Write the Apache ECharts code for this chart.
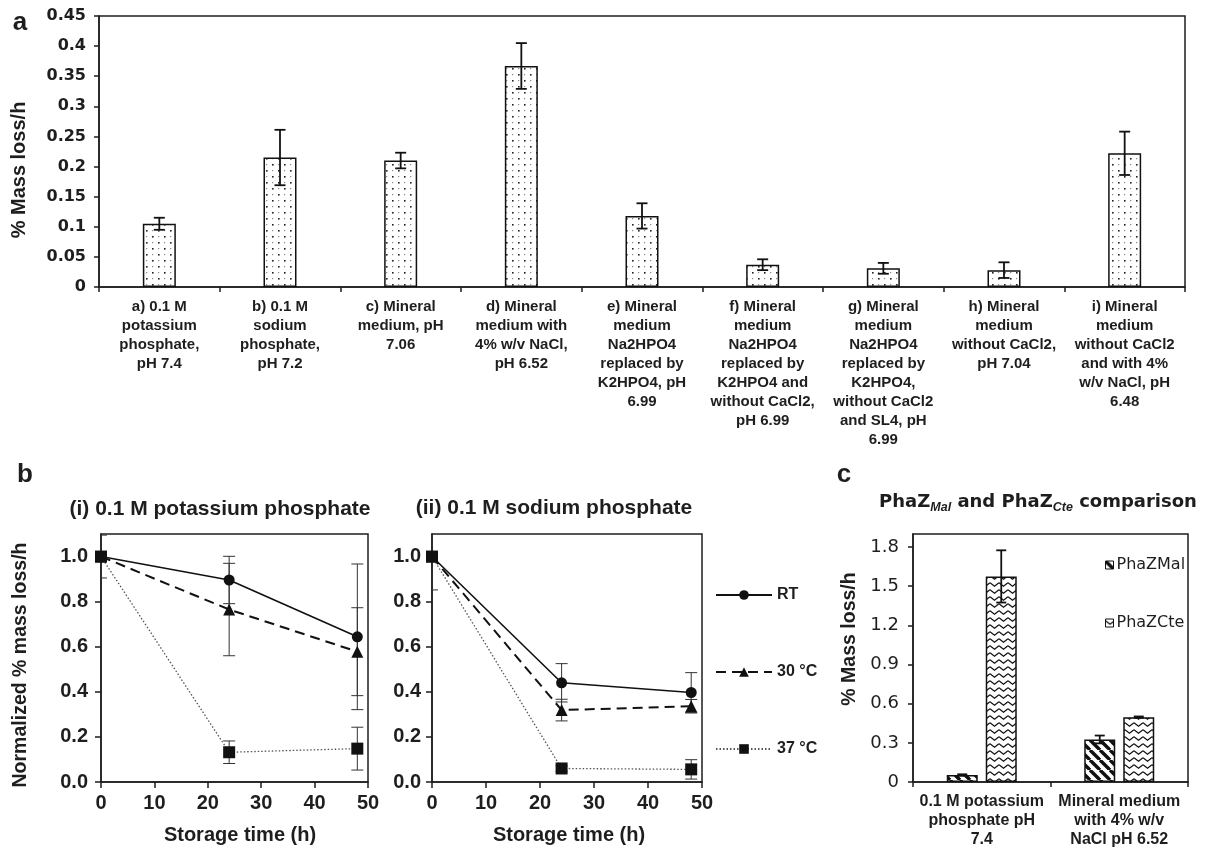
<!DOCTYPE html>
<html>
<head>
<meta charset="utf-8">
<script src="https://cdn.jsdelivr.net/npm/echarts@6/dist/echarts.min.js"></script>
<style>
  html, body { margin: 0; padding: 0; background: #fff; }
  #chart { width: 1216px; height: 849px; }
</style>
</head>
<body>
<div id="chart"></div>
<script>
// ---------- data ----------
// (a) degradation rate in different buffers / media
const mediaLabels = [
  'a) 0.1 M\npotassium\nphosphate,\npH 7.4',
  'b) 0.1 M\nsodium\nphosphate,\npH 7.2',
  'c) Mineral\nmedium, pH\n7.06',
  'd) Mineral\nmedium with\n4% w/v NaCl,\npH 6.52',
  'e) Mineral\nmedium\nNa2HPO4\nreplaced by\nK2HPO4, pH\n6.99',
  'f) Mineral\nmedium\nNa2HPO4\nreplaced by\nK2HPO4 and\nwithout CaCl2,\npH 6.99',
  'g) Mineral\nmedium\nNa2HPO4\nreplaced by\nK2HPO4,\nwithout CaCl2\nand SL4, pH\n6.99',
  'h) Mineral\nmedium\nwithout CaCl2,\npH 7.04',
  'i) Mineral\nmedium\nwithout CaCl2\nand with 4%\nw/v NaCl, pH\n6.48'
];
const massLoss    = [0.105, 0.215, 0.21, 0.367, 0.118, 0.037, 0.031, 0.028, 0.222];
const massLossErr = [0.010, 0.046, 0.013, 0.038, 0.021, 0.009, 0.009, 0.013, 0.036];

// (b) normalized rate after storage
const storageHours = [0, 24, 48];
const kRT  = [1.0, 0.896, 0.644], kRTErr  = [0.095, 0.105, 0.323];
const k30  = [1.0, 0.765, 0.578], k30Err  = [0, 0.205, 0.195];
const k37  = [1.0, 0.132, 0.148], k37Err  = [0, 0.05, 0.095];
const nRT  = [1.0, 0.44, 0.397],  nRTErr  = [0.148, 0.085, 0.088];
const n30  = [1.0, 0.319, 0.336], n30Err  = [0, 0.048, 0.03];
const n37  = [1.0, 0.06, 0.056],  n37Err  = [0, 0.012, 0.043];
const normTicks = [0, 0.2, 0.4, 0.6, 0.8, 1.0];
const tempNames = ['RT', '30 °C', '37 °C'];

// (c) enzyme comparison
const enzymeMedia = ['0.1 M potassium\nphosphate pH\n7.4', 'Mineral medium\nwith 4% w/v\nNaCl pH 6.52'];
const phaZMal = [0.054, 0.326], phaZMalErr = [0.005, 0.03];
const phaZCte = [1.575, 0.497], phaZCteErr = [0.2, 0.005];
const rateTicks = [0, 0.3, 0.6, 0.9, 1.2, 1.5, 1.8];

// ---------- styling helpers ----------
const ARIAL = '"Liberation Sans", Arial, Helvetica, sans-serif';
const DEJAVU = '"DejaVu Sans", Verdana, sans-serif';
const INK = '#1e1e1e';
const C_BAR_W = 31, C_BAR_GAP = 8;

function tile(w, h, draw) {
  const c = document.createElement('canvas');
  c.width = w; c.height = h;
  const g = c.getContext('2d');
  g.fillStyle = '#fff'; g.fillRect(0, 0, w, h);
  draw(g);
  return { image: c, repeat: 'repeat' };
}
const dotFill = tile(12, 12, g => {
  g.fillStyle = '#222';
  g.fillRect(2, 2, 1.6, 1.6); g.fillRect(8, 8, 1.6, 1.6);
  g.fillStyle = '#8a8a8a';
  g.fillRect(8, 2, 1.2, 1.2); g.fillRect(2, 8, 1.2, 1.2);
});
const stripeFill = tile(10, 10, g => {
  g.strokeStyle = '#111'; g.lineWidth = 3.4;
  for (const k of [-10, 0, 10]) {
    g.beginPath(); g.moveTo(k, 0); g.lineTo(k + 10, 10); g.stroke();
  }
});
const zigzagFill = tile(9, 7, g => {
  g.strokeStyle = '#111'; g.lineWidth = 1.3;
  g.beginPath(); g.moveTo(0, 1.8); g.lineTo(4.5, 5.2); g.lineTo(9, 1.8); g.stroke();
});

const pairs = (xs, ys) => xs.map((x, i) => [x, ys[i]]);
const triples = (xs, ys, es) => xs.map((x, i) => [x, ys[i], es[i]]);

function errRender(cap, width, color, shift) {
  return function (params, api) {
    const e = api.value(2);
    if (!e) return null;
    const v = api.value(1);
    const hi = api.coord([api.value(0), v + e]);
    const lo = api.coord([api.value(0), v - e]);
    const x = hi[0] + (shift || 0);
    const st = { stroke: color, lineWidth: width };
    return {
      type: 'group',
      children: [
        { type: 'line', shape: { x1: x, y1: hi[1], x2: x, y2: lo[1] }, style: st },
        { type: 'line', shape: { x1: x - cap, y1: hi[1], x2: x + cap, y2: hi[1] }, style: st },
        { type: 'line', shape: { x1: x - cap, y1: lo[1], x2: x + cap, y2: lo[1] }, style: st }
      ]
    };
  };
}
function errSeries(gridIdx, data, cap, width, color, shift, z) {
  return {
    type: 'custom', xAxisIndex: gridIdx, yAxisIndex: gridIdx, data,
    encode: { x: 0, y: 1 }, clip: true, silent: true, z: z,
    renderItem: errRender(cap, width, color, shift)
  };
}

const axisLine = { lineStyle: { color: INK, width: 1.5 } };
const gridBox = { show: true, borderColor: INK, borderWidth: 1.5, backgroundColor: 'transparent' };

// ---------- line series for (b) ----------
const lineLooks = [
  { symbol: 'circle', size: 11, line: { color: '#111', width: 1.6, type: 'solid' } },
  { symbol: 'triangle', size: 12, line: { color: '#111', width: 2, type: [10, 6] } },
  { symbol: 'rect', size: 12, line: { color: '#555', width: 1.3, type: [1.5, 2] } }
];
function bLines(gridIdx, sets) {
  const out = [];
  sets.forEach((s, i) => {
    const look = lineLooks[i];
    out.push(errSeries(gridIdx, triples(storageHours, s[0], s[1]), 6, 1, '#333', 0, 2));
    out.push({
      type: 'line', name: tempNames[i], xAxisIndex: gridIdx, yAxisIndex: gridIdx,
      data: pairs(storageHours, s[0]), symbol: look.symbol, symbolSize: look.size,
      itemStyle: { color: '#111' }, lineStyle: look.line, z: 3
    });
  });
  return out;
}

function txt(text, x, y, st, rot) {
  return {
    type: 'text', x, y, rotation: rot || 0,
    style: Object.assign({
      text, fill: INK,
      align: 'center', verticalAlign: 'middle', textAlign: 'center', textVerticalAlign: 'middle'
    }, st)
  };
}

const chart = echarts.init(document.getElementById('chart'), null, { renderer: 'canvas' });

const option = {
  animation: false,
  backgroundColor: '#fff',
  textStyle: { fontFamily: ARIAL, color: INK },
  grid: [
    Object.assign({ left: 99, top: 16, width: 1086, height: 271 }, gridBox),
    Object.assign({ left: 101, top: 534, width: 267, height: 248 }, gridBox),
    Object.assign({ left: 432, top: 534, width: 270, height: 248 }, gridBox),
    Object.assign({ left: 913, top: 534, width: 275, height: 249 }, gridBox)
  ],
  xAxis: [
    {
      gridIndex: 0, type: 'category', data: mediaLabels, boundaryGap: true,
      axisLine, axisTick: { show: true, interval: 0, length: 5, lineStyle: { color: INK, width: 1.5 } },
      axisLabel: { interval: 0, margin: 10, fontFamily: ARIAL, fontWeight: 'bold', fontSize: 15, lineHeight: 19, color: INK }
    },
    {
      gridIndex: 1, type: 'value', min: 0, max: 50, interval: 10, splitLine: { show: false },
      axisLine, axisTick: { length: 6, lineStyle: { color: INK, width: 1.5 } },
      axisLabel: { margin: 11, fontFamily: ARIAL, fontWeight: 'bold', fontSize: 20, color: INK }
    },
    {
      gridIndex: 2, type: 'value', min: 0, max: 50, interval: 10, splitLine: { show: false },
      axisLine, axisTick: { length: 6, lineStyle: { color: INK, width: 1.5 } },
      axisLabel: { margin: 11, fontFamily: ARIAL, fontWeight: 'bold', fontSize: 20, color: INK }
    },
    {
      gridIndex: 3, type: 'category', data: enzymeMedia, boundaryGap: true,
      axisLine, axisTick: { show: true, interval: 0, length: 5, lineStyle: { color: INK, width: 1.5 } },
      axisLabel: { interval: 0, margin: 10, fontFamily: ARIAL, fontWeight: 'bold', fontSize: 16, lineHeight: 19, color: INK }
    }
  ],
  yAxis: [
    {
      gridIndex: 0, type: 'value', min: 0, max: 0.45, interval: 0.05, splitLine: { show: false },
      axisLine: Object.assign({ show: true }, axisLine),
      axisTick: { show: true, length: 5, lineStyle: { color: INK, width: 1.5 } },
      axisLabel: { margin: 13, fontFamily: DEJAVU, fontWeight: 'bold', fontSize: 16, color: INK }
    },
    {
      gridIndex: 1, type: 'value', min: 0, max: 1.1, splitLine: { show: false },
      axisLine: Object.assign({ show: true }, axisLine),
      axisTick: { show: true, length: 6, customValues: normTicks, lineStyle: { color: INK, width: 1.5 } },
      axisLabel: { margin: 13, customValues: normTicks, formatter: v => v.toFixed(1), fontFamily: ARIAL, fontWeight: 'bold', fontSize: 20, color: INK }
    },
    {
      gridIndex: 2, type: 'value', min: 0, max: 1.1, splitLine: { show: false },
      axisLine: Object.assign({ show: true }, axisLine),
      axisTick: { show: true, length: 6, customValues: normTicks, lineStyle: { color: INK, width: 1.5 } },
      axisLabel: { margin: 11, customValues: normTicks, formatter: v => v.toFixed(1), fontFamily: ARIAL, fontWeight: 'bold', fontSize: 20, color: INK }
    },
    {
      gridIndex: 3, type: 'value', min: 0, max: 1.9, splitLine: { show: false },
      axisLine: Object.assign({ show: true }, axisLine),
      axisTick: { show: true, length: 5, customValues: rateTicks, lineStyle: { color: INK, width: 1.5 } },
      axisLabel: { margin: 14, customValues: rateTicks, formatter: v => (v === 0 ? '0' : v.toFixed(1)), fontFamily: DEJAVU, fontSize: 18, color: INK }
    }
  ],
  legend: [
    {
      data: tempNames, orient: 'vertical', left: 710, top: 582,
      itemWidth: 56, itemHeight: 12, itemGap: 61,
      textStyle: { fontFamily: ARIAL, fontWeight: 'bold', fontSize: 16, color: INK },
      selectedMode: false
    },
    {
      data: ['PhaZMal', 'PhaZCte'], orient: 'vertical', left: 1100, top: 552,
      icon: 'rect', itemWidth: 8, itemHeight: 8, itemGap: 42,
      itemStyle: { borderColor: '#111', borderWidth: 1 },
      textStyle: { fontFamily: DEJAVU, fontSize: 16, color: INK, padding: [0, 0, 0, -2] },
      selectedMode: false
    }
  ],
  series: [
    // (a)
    {
      type: 'bar', xAxisIndex: 0, yAxisIndex: 0, data: massLoss, barWidth: 33,
      itemStyle: { color: dotFill, borderColor: '#111', borderWidth: 1.5 }, z: 2
    },
    errSeries(0, massLoss.map((v, i) => [i, v, massLossErr[i]]), 5.5, 1.8, '#111', 0, 4),
    // (b-i) potassium phosphate, (b-ii) sodium phosphate
    ...bLines(1, [[kRT, kRTErr], [k30, k30Err], [k37, k37Err]]),
    ...bLines(2, [[nRT, nRTErr], [n30, n30Err], [n37, n37Err]]),
    // (c)
    {
      type: 'bar', name: 'PhaZMal', xAxisIndex: 3, yAxisIndex: 3, data: phaZMal,
      barWidth: C_BAR_W, barGap: (C_BAR_GAP / C_BAR_W * 100) + '%',
      itemStyle: { color: stripeFill, borderColor: '#111', borderWidth: 1.5 }, z: 2
    },
    {
      type: 'bar', name: 'PhaZCte', xAxisIndex: 3, yAxisIndex: 3, data: phaZCte,
      barWidth: C_BAR_W, barGap: (C_BAR_GAP / C_BAR_W * 100) + '%',
      itemStyle: { color: zigzagFill, borderColor: '#111', borderWidth: 1.5 }, z: 2
    },
    errSeries(3, phaZMal.map((v, i) => [i, v, phaZMalErr[i]]), 5, 1.8, '#111', -(C_BAR_W + C_BAR_GAP) / 2, 4),
    errSeries(3, phaZCte.map((v, i) => [i, v, phaZCteErr[i]]), 5, 1.8, '#111', (C_BAR_W + C_BAR_GAP) / 2, 4)
  ],
  graphic: [
    txt('a', 20, 23, { font: 'bold 26px ' + ARIAL }),
    txt('b', 25, 475, { font: 'bold 26px ' + ARIAL }),
    txt('c', 844, 475, { font: 'bold 26px ' + ARIAL }),
    txt('% Mass loss/h', 19, 170, { font: 'bold 20px ' + ARIAL }, Math.PI / 2),
    txt('Normalized % mass loss/h', 21, 665, { font: 'bold 19.5px ' + ARIAL }, Math.PI / 2),
    txt('% Mass loss/h', 850, 639, { font: 'bold 19.5px ' + ARIAL }, Math.PI / 2),
    txt('(i) 0.1 M potassium phosphate', 220, 509, { font: 'bold 21px ' + ARIAL }),
    txt('(ii) 0.1 M sodium phosphate', 554, 508, { font: 'bold 21px ' + ARIAL }),
    txt('Storage time (h)', 240, 835, { font: 'bold 20px ' + ARIAL }),
    txt('Storage time (h)', 569, 835, { font: 'bold 20px ' + ARIAL }),
    {
      type: 'text', x: 1038, y: 502,
      style: {
        text: '{m|PhaZ}{s|Mal}{m| and PhaZ}{s|Cte}{m| comparison}',
        align: 'center', verticalAlign: 'middle', textAlign: 'center', textVerticalAlign: 'middle',
        rich: {
          m: { fontFamily: DEJAVU, fontWeight: 'bold', fontSize: 18, lineHeight: 24, fill: INK },
          s: { fontFamily: ARIAL, fontWeight: 'bold', fontStyle: 'italic', fontSize: 12.5, lineHeight: 9, verticalAlign: 'bottom', fill: INK }
        }
      }
    }
  ]
};

chart.setOption(option);
</script>
</body>
</html>
